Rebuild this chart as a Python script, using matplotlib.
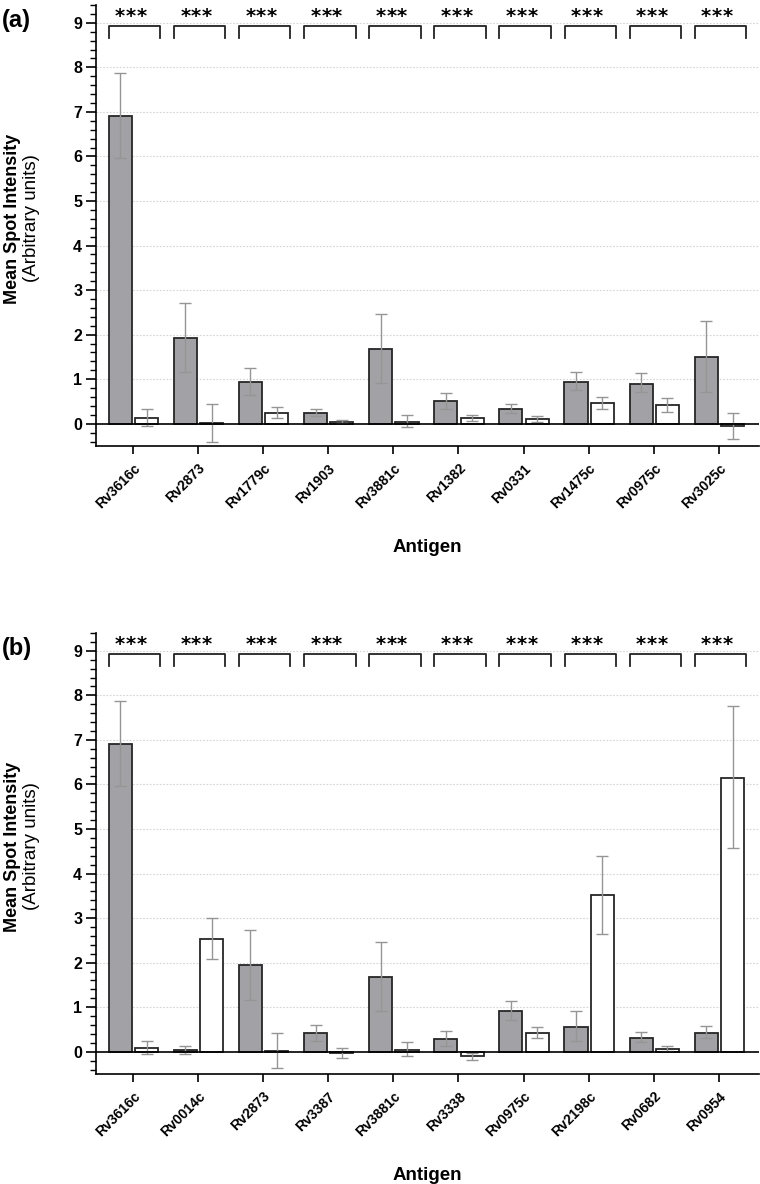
import numpy as np
import matplotlib
matplotlib.use("Agg")
import matplotlib.pyplot as plt
import matplotlib.transforms as mtransforms
from matplotlib.ticker import MultipleLocator

plt.rcParams['font.family'] = ['Liberation Sans', 'DejaVu Sans']

# panel (a)
antigens_a = ["Rv3616c", "Rv2873", "Rv1779c", "Rv1903", "Rv3881c",
              "Rv1382", "Rv0331", "Rv1475c", "Rv0975c", "Rv3025c"]
gray_a = [6.90, 1.93, 0.94, 0.24, 1.68, 0.50, 0.33, 0.94, 0.90, 1.50]
gray_a_hi = [7.87, 2.72, 1.25, 0.32, 2.46, 0.69, 0.45, 1.17, 1.13, 2.30]
gray_a_lo = [5.97, 1.16, 0.65, 0.18, 0.91, 0.33, 0.24, 0.75, 0.71, 0.71]
white_a = [0.12, 0.02, 0.25, 0.04, 0.04, 0.12, 0.10, 0.46, 0.41, -0.05]
white_a_hi = [0.32, 0.44, 0.38, 0.09, 0.19, 0.19, 0.17, 0.60, 0.58, 0.23]
white_a_lo = [-0.05, -0.40, 0.13, 0.01, -0.08, 0.07, 0.04, 0.32, 0.26, -0.34]

# panel (b)
antigens_b = ["Rv3616c", "Rv0014c", "Rv2873", "Rv3387", "Rv3881c",
              "Rv3338", "Rv0975c", "Rv2198c", "Rv0682", "Rv0954"]
gray_b = [6.90, 0.03, 1.94, 0.41, 1.68, 0.29, 0.92, 0.56, 0.31, 0.43]
gray_b_hi = [7.87, 0.13, 2.73, 0.59, 2.46, 0.47, 1.14, 0.91, 0.44, 0.57]
gray_b_lo = [5.97, -0.06, 1.16, 0.24, 0.91, 0.13, 0.72, 0.24, 0.21, 0.31]
white_b = [0.09, 2.53, 0.02, -0.02, 0.04, -0.09, 0.43, 3.51, 0.07, 6.15]
white_b_hi = [0.24, 3.00, 0.42, 0.08, 0.21, -0.02, 0.56, 4.40, 0.12, 7.75]
white_b_lo = [-0.04, 2.08, -0.36, -0.13, -0.10, -0.19, 0.31, 2.64, 0.01, 4.57]

n_stars = [3] * 10  # *** for every antigen

GRAY = "#a2a2a6"
EDGE = "#262626"
ERR = "#959595"


def draw_panel(fig, ax, labels, g, g_hi, g_lo, w, w_hi, w_lo):
    x = np.arange(len(labels))
    g = np.array(g)
    w = np.array(w)
    width = 0.355
    xg = x - 0.195
    xw = x + 0.21
    ax.bar(xg, g, width, color=GRAY, edgecolor=EDGE, linewidth=1.3, zorder=3)
    ax.bar(xw, w, width, color="white", edgecolor=EDGE, linewidth=1.3, zorder=3)
    ax.errorbar(xg, g, yerr=[g - np.array(g_lo), np.array(g_hi) - g], fmt="none",
                ecolor=ERR, elinewidth=1.0, capsize=4, capthick=1.0, zorder=4)
    ax.errorbar(xw, w, yerr=[w - np.array(w_lo), np.array(w_hi) - w], fmt="none",
                ecolor=ERR, elinewidth=1.0, capsize=4, capthick=1.0, zorder=4)
    ax.axhline(0, color="black", linewidth=1.2, zorder=5)

    # significance brackets
    for xi, ns in zip(x, n_stars):
        ax.plot([xi - 0.37, xi - 0.37, xi + 0.42, xi + 0.42],
                [8.66, 8.92, 8.92, 8.66], color="#222222", linewidth=1.3,
                clip_on=False, zorder=5)
        for k in range(ns):
            ax.text(xi - 0.03 + (k - (ns - 1) / 2) * 0.165, 9.15, "*", ha="center",
                    va="center", fontsize=14, fontweight="bold",
                    family="DejaVu Sans", clip_on=False)

    ax.set_xlim(-0.567, 9.62)
    ax.set_ylim(-0.5, 9.4)
    ax.set_xticks(x)
    ax.set_xticklabels(labels, rotation=45, ha="right", va="top",
                       rotation_mode="anchor", fontsize=10, fontweight="bold")
    shift = mtransforms.ScaledTranslation(4 / 72, 0, fig.dpi_scale_trans)
    for lab in ax.get_xticklabels():
        lab.set_transform(lab.get_transform() + shift)
    ax.set_yticks(range(0, 10))
    ax.set_yticklabels([str(i) for i in range(0, 10)], fontsize=11.5, fontweight="bold")
    ax.yaxis.set_minor_locator(MultipleLocator(0.2))
    ax.tick_params(axis="y", which="major", length=7, width=1.2, pad=3)
    ax.tick_params(axis="y", which="minor", length=4, width=1.0)
    ax.tick_params(axis="x", which="major", length=6, width=1.2, pad=5)
    for yy in range(1, 10):
        ax.axhline(yy, color="#d4d4d4", linewidth=0.8, linestyle=(0, (1.5, 1.5)), zorder=1)
    for sp in ["top", "right"]:
        ax.spines[sp].set_visible(False)
    for sp in ["left", "bottom"]:
        ax.spines[sp].set_linewidth(1.2)
    ax.set_xlabel("Antigen", fontsize=13.5, fontweight="bold", labelpad=20)


fig = plt.figure(figsize=(7.6, 11.84), dpi=100)
ax_a = fig.add_axes([0.1263, 0.6233, 0.8727, 0.3725])
ax_b = fig.add_axes([0.1263, 0.0929, 0.8727, 0.3725])

draw_panel(fig, ax_a, antigens_a, gray_a, gray_a_hi, gray_a_lo, white_a, white_a_hi, white_a_lo)
draw_panel(fig, ax_b, antigens_b, gray_b, gray_b_hi, gray_b_lo, white_b, white_b_hi, white_b_lo)

for ax, tag in [(ax_a, "(a)"), (ax_b, "(b)")]:
    pos = ax.get_position()
    fig.text(0.003, pos.y1 - 0.003, tag, fontsize=17, fontweight="bold", va="top", ha="left")
    yc = (pos.y0 + pos.y1) / 2 + 0.006
    fig.text(0.017, yc, "Mean Spot Intensity", rotation=90, fontsize=13,
             fontweight="bold", ha="center", va="center")
    fig.text(0.042, yc, "(Arbitrary units)", rotation=90, fontsize=13.5,
             ha="center", va="center")

fig.savefig("out.png", dpi=100)
